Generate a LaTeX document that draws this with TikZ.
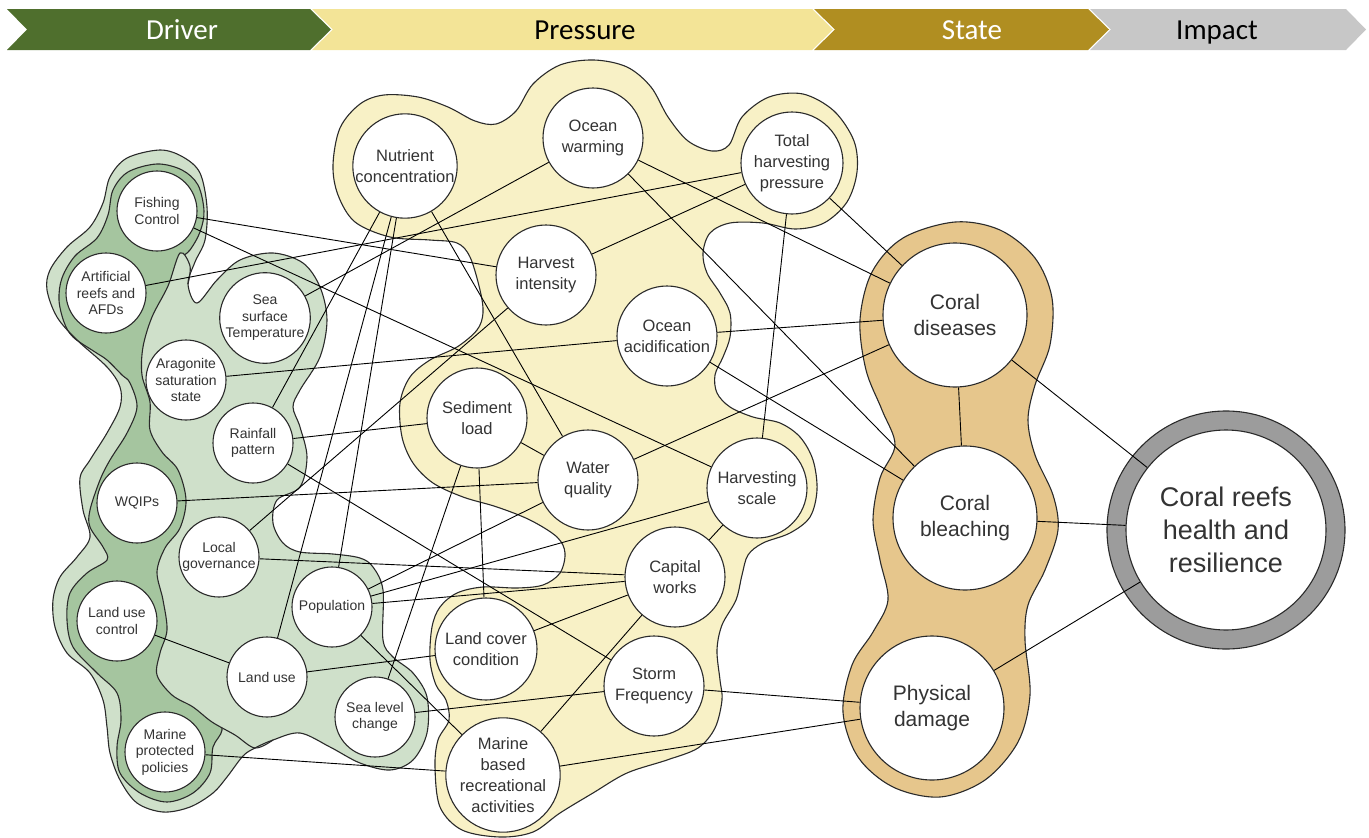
\documentclass[tikz,border=0pt]{standalone}
\usepackage{fontspec}
\setmainfont{Liberation Sans}
\newfontfamily\hdrfont{Carlito}
\definecolor{cDriver}{HTML}{4F6F2D}
\definecolor{cPressure}{HTML}{F3E497}
\definecolor{cState}{HTML}{B08E21}
\definecolor{cImpact}{HTML}{C7C7C7}
\definecolor{gLight}{HTML}{CFE0CA}
\definecolor{gDark}{HTML}{A5C59F}
\definecolor{pFill}{HTML}{F8F1C6}
\definecolor{sFill}{HTML}{E6C68C}
\definecolor{ringGray}{HTML}{9C9C9C}
\definecolor{lineC}{HTML}{2A2A2A}
\definecolor{txtC}{HTML}{333333}
\pgfdeclarelayer{blobs}
\pgfdeclarelayer{edges}
\pgfsetlayers{blobs,edges,main}
\tikzset{
  nodebase/.style={circle, draw=lineC, line width=1.1pt, fill=white, inner sep=0pt, align=center, text=txtC},
  drv/.style={nodebase, minimum size=80pt, font=\fontsize{14}{16.5}\selectfont},
  prs/.style={nodebase, minimum size=100pt, font=\fontsize{16.5}{21}\selectfont},
  sta/.style={nodebase, minimum size=144pt, font=\fontsize{21}{26}\selectfont},
  imp/.style={nodebase, minimum size=200pt, font=\fontsize{27}{33}\selectfont},
  hdr/.style={font=\hdrfont\fontsize{29}{32}\selectfont, inner sep=0pt, anchor=base},
  link/.style={draw=black, line width=0.9pt},
  blobline/.style={draw=lineC, line width=1.1pt},
}
\begin{document}
\begin{tikzpicture}[x=1pt,y=-1pt]
\useasboundingbox (0,0) rectangle (1369,838);
% ---------- header banner ----------
\fill[cDriver] (7,9) -- (310,9) -- (331,29.5) -- (310,50) -- (7,50) -- (27,29.5) -- cycle;
\fill[cPressure] (312,9) -- (812,9) -- (833,29.5) -- (812,50) -- (312,50) -- (333,29.5) -- cycle;
\fill[cState] (814,9) -- (1088,9) -- (1109,29.5) -- (1088,50) -- (814,50) -- (835,29.5) -- cycle;
\fill[cImpact] (1090,9) -- (1346,9) -- (1366,29.5) -- (1346,50) -- (1090,50) -- (1111,29.5) -- cycle;
\node[hdr, text=white] (hDriver) at (182,39) {Driver};
\node[hdr, text=black] (hPressure) at (585,39) {Pressure};
\node[hdr, text=white] (hState) at (972,39) {State};
\node[hdr, text=black] (hImpact) at (1217,39) {Impact};
% ---------- driver nodes ----------
\node[drv] (fc) at (157,211) {Fishing\\Control};
\node[drv] (ar) at (106,293) {Artificial\\reefs and\\AFDs};
\node[drv, minimum size=82pt] (sst) at (265,318) {Sea\\surface\\Temperature};
\node[drv] (arag) at (186,380) {Aragonite\\saturation\\state};
\node[drv] (rain) at (253,443) {Rainfall\\pattern};
\node[drv] (wqip) at (137,503) {WQIPs};
\node[drv] (lg) at (219,557) {Local\\governance};
\node[drv] (luc) at (117,621) {Land use\\control};
\node[drv] (lu) at (267,677) {Land use};
\node[drv] (pop) at (332,607) {Population};
\node[drv] (slc) at (375,717) {Sea level\\change};
\node[drv] (mpp) at (165,752) {Marine\\protected\\policies};
% ---------- pressure nodes ----------
\node[prs] (nut) at (405,166) {Nutrient\\concentration};
\node[prs] (ow) at (593,138) {Ocean\\warming};
\node[prs, minimum size=102pt] (thp) at (792,163) {Total\\harvesting\\pressure};
\node[prs] (hi) at (546,275) {Harvest\\intensity};
\node[prs] (oa) at (667,336) {Ocean\\acidification};
\node[prs] (sed) at (477,418) {Sediment\\load};
\node[prs] (wq) at (588,480) {Water\\quality};
\node[prs] (hs) at (757,488) {Harvesting\\scale};
\node[prs] (cw) at (675,577) {Capital\\works};
\node[prs, minimum size=102pt] (lcc) at (486,649) {Land cover\\condition};
\node[prs] (sf) at (654,686) {Storm\\Frequency};
\node[prs] (mb) at (503,775) {Marine\\based\\recreational\\activities};
% ---------- state / impact nodes ----------
\node[sta] (cd) at (955,315) {Coral\\diseases};
\node[sta] (cb) at (965,518) {Coral\\bleaching};
\node[sta] (pd) at (932,708) {Physical\\damage};
\node[imp] (crh) at (1226,530) {Coral reefs\\health and\\resilience};
% ---------- blobs ----------
\begin{pgfonlayer}{blobs}
% pressure blob
\filldraw[blobline, fill=pFill] plot[smooth cycle, tension=0.55] coordinates {
(333,165) (340,128) (360,104) (384,95) (418,97) (448,107) (475,121) (496,124) (516,111) (533,84) (560,65) (594,60) (627,67) (651,87) (668,117) (688,141) (712,151) (729,145) (742,117) (769,97) (803,94) (834,111) (854,141) (857,172) (847,202) (824,223) (795,229) (763,223) (730,223) (710,233) (703,253) (707,273) (720,293) (730,313) (730,337) (723,357) (715,375) (717,393) (730,407) (753,417) (780,423) (800,437) (813,460) (817,490) (810,517) (790,533) (763,543) (748,555) (742,575) (736,600) (722,625) (717,650) (720,680) (722,700) (715,728) (698,748) (667,760) (627,773) (593,793) (560,813) (533,832) (500,837) (462,830) (440,807) (435,767) (438,740) (449,720) (446,700) (436,685) (430,660) (432,627) (440,607) (457,593) (483,587) (517,588) (543,585) (560,573) (565,553) (557,537) (530,520) (497,507) (463,497) (433,483) (413,463) (402,437) (400,403) (410,377) (430,360) (457,347) (477,330) (483,313) (480,290) (470,257) (457,243) (430,240) (390,237) (355,222) (338,195)};
% driver outer blob (fill)
\fill[gLight] plot[smooth cycle, tension=0.55] coordinates {
(160,150) (183,157) (200,173) (207,207) (205,240) (195,262) (188,284) (197,303) (217,280) (240,260) (273,253) (303,263) (320,287) (327,320) (320,357) (300,390) (293,407) (300,427) (307,457) (300,487) (277,500) (273,523) (283,543) (300,552) (333,554) (360,558) (373,567) (383,590) (383,640) (393,657) (413,673) (427,697) (427,733) (413,760) (390,770) (360,763) (330,747) (300,733) (273,740) (255,748) (243,756) (227,777) (213,793) (190,807) (163,812) (137,803) (120,780) (110,753) (107,727) (103,700) (90,673) (67,653) (55,627) (53,600) (60,577) (77,557) (90,537) (83,510) (80,478) (90,460) (107,433) (120,407) (120,387) (107,367) (77,340) (57,317) (47,290) (50,270) (67,247) (90,227) (103,203) (110,177) (127,158)};
% dark chain
\filldraw[blobline, fill=gDark] plot[smooth cycle, tension=0.55] coordinates {
(157,164) (128,172) (113,190) (108,215) (97,238) (75,256) (62,278) (59,300) (64,322) (73,337) (95,352) (107,360) (122,375) (130,383) (137,407) (127,433) (110,460) (100,480) (90,510) (90,527) (103,547) (107,560) (87,573) (70,593) (67,620) (73,647) (97,673) (117,693) (121,720) (117,747) (120,773) (140,793) (167,802) (193,793) (210,773) (213,747) (222,730) (215,712) (190,690) (180,650) (185,610) (180,570) (190,540) (195,500) (185,460) (170,430) (168,390) (165,350) (165,320) (172,290) (178,262) (190,250) (200,232) (204,211) (198,185) (182,170)};
% middle blob (fill)
\fill[gLight] plot[smooth cycle, tension=0.55] coordinates {
(217,280) (240,260) (273,253) (303,263) (320,287) (327,320) (320,357) (300,390) (293,407) (300,427) (307,457) (300,487) (277,500) (273,523) (283,543) (300,552) (333,554) (360,558) (373,567) (383,590) (383,640) (393,657) (413,673) (427,697) (427,733) (413,760) (390,770) (360,763) (330,747) (300,733) (273,740) (255,748) (235,735) (212,722) (193,707) (172,695) (157,675) (160,653) (167,630) (163,600) (157,572) (165,548) (180,528) (186,500) (178,470) (162,452) (150,430) (150,402) (142,375) (143,347) (152,317) (168,286) (180,253) (190,266) (188,284) (197,303)};
% middle blob left boundary
\draw[blobline] plot[smooth, tension=0.55] coordinates {
(273,740) (255,748) (235,735) (212,722) (193,707) (172,695) (157,675) (160,653) (167,630) (163,600) (157,572) (165,548) (180,528) (186,500) (178,470) (162,452) (150,430) (150,402) (142,375) (143,347) (152,317) (168,286) (180,253) (190,266) (188,284)};
% driver outer outline
\draw[blobline] plot[smooth cycle, tension=0.55] coordinates {
(160,150) (183,157) (200,173) (207,207) (205,240) (195,262) (188,284) (197,303) (217,280) (240,260) (273,253) (303,263) (320,287) (327,320) (320,357) (300,390) (293,407) (300,427) (307,457) (300,487) (277,500) (273,523) (283,543) (300,552) (333,554) (360,558) (373,567) (383,590) (383,640) (393,657) (413,673) (427,697) (427,733) (413,760) (390,770) (360,763) (330,747) (300,733) (273,740) (255,748) (243,756) (227,777) (213,793) (190,807) (163,812) (137,803) (120,780) (110,753) (107,727) (103,700) (90,673) (67,653) (55,627) (53,600) (60,577) (77,557) (90,537) (83,510) (80,478) (90,460) (107,433) (120,407) (120,387) (107,367) (77,340) (57,317) (47,290) (50,270) (67,247) (90,227) (103,203) (110,177) (127,158)};
% state blob
\filldraw[blobline, fill=sFill] plot[smooth cycle, tension=0.55] coordinates {
(955,222) (1000,230) (1035,258) (1052,298) (1050,345) (1035,385) (1028,420) (1035,455) (1053,495) (1058,530) (1045,570) (1028,605) (1025,640) (1030,695) (1018,742) (985,780) (940,797) (893,787) (858,757) (843,712) (852,665) (873,632) (888,600) (880,560) (873,520) (880,478) (895,445) (882,410) (866,370) (860,320) (872,272) (903,238)};
% impact ring
\filldraw[blobline, fill=ringGray] (1226,530) circle[radius=119pt];
\end{pgfonlayer}
% ---------- connectors ----------
\begin{pgfonlayer}{edges}
\draw[link] (fc) -- (hi);
\draw[link] (fc) -- (hs);
\draw[link] (ar) -- (thp);
\draw[link] (sst) -- (ow);
\draw[link] (arag) -- (oa);
\draw[link] (rain) -- (nut);
\draw[link] (rain) -- (sed);
\draw[link] (rain) -- (sf);
\draw[link] (wqip) -- (wq);
\draw[link] (lg) -- (hi);
\draw[link] (lg) -- (cw);
\draw[link] (luc) -- (lu);
\draw[link] (lu) -- (nut);
\draw[link] (lu) -- (lcc);
\draw[link] (pop) -- (nut);
\draw[link] (pop) -- (wq);
\draw[link] (pop) -- (hs);
\draw[link] (pop) -- (cw);
\draw[link] (pop) -- (mb);
\draw[link] (slc) -- (sed);
\draw[link] (slc) -- (sf);
\draw[link] (mpp) -- (mb);
\draw[link] (nut) -- (wq);
\draw[link] (ow) -- (cd);
\draw[link] (ow) -- (cb);
\draw[link] (thp) -- (hi);
\draw[link] (thp) -- (hs);
\draw[link] (thp) -- (cd);
\draw[link] (oa) -- (cd);
\draw[link] (oa) -- (cb);
\draw[link] (sed) -- (wq);
\draw[link] (sed) -- (lcc);
\draw[link] (wq) -- (cd);
\draw[link] (hs) -- (cw);
\draw[link] (cw) -- (lcc);
\draw[link] (cw) -- (mb);
\draw[link] (sf) -- (pd);
\draw[link] (mb) -- (pd);
\draw[link] (cd) -- (cb);
\draw[link] (cd) -- (crh);
\draw[link] (cb) -- (crh);
\draw[link] (pd) -- (crh);
\end{pgfonlayer}
\end{tikzpicture}
\end{document}
